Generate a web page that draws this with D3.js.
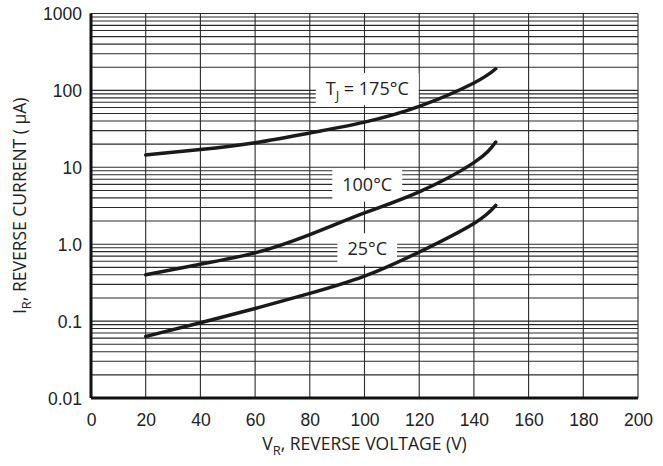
<!DOCTYPE html>
<html>
<head>
<meta charset="utf-8">
<script src="https://cdn.jsdelivr.net/npm/d3@7"></script>
<style>
  html, body { margin: 0; background: #fff; overflow: hidden; }
  svg { display: block; font-family: "Open Sans", "Liberation Sans", sans-serif; }
</style>
</head>
<body>
<div id="chart"></div>
<script>
// reverse voltage (V) where each curve was read
const voltage = [20, 40, 60, 80, 100, 120, 140, 148];
// reverse current (uA) per junction temperature
const i175 = [14.5, 17.0, 20.9, 27.9, 38.7, 62, 125, 191];
const i100 = [0.40, 0.55, 0.77, 1.33, 2.55, 4.8, 11.5, 21.3];
const i25 = [0.063, 0.095, 0.146, 0.229, 0.384, 0.79, 1.86, 3.2];

const xTicks = [0, 20, 40, 60, 80, 100, 120, 140, 160, 180, 200];
const yTicks = [0.01, 0.1, 1, 10, 100, 1000];
const yTickLabels = ["0.01", "0.1", "1.0", "10", "100", "1000"];

// curve labels, placed at (V, I)
const labels = [
    { pre: "T", sub: "J", post: " = 175°C", v: 101, i: 104 },
    { pre: "100°C", sub: "", post: "", v: 101, i: 5.8 },
    { pre: "25°C", sub: "", post: "", v: 101, i: 0.86 }
];

const width = 663, height = 466;
const margin = { top: 13.5, right: 25, bottom: 68, left: 91 };
const innerWidth = width - margin.left - margin.right;
const innerHeight = height - margin.top - margin.bottom;

const svg = d3.select("#chart").append("svg")
    .attr("width", width)
    .attr("height", height);

const chart = svg.append("g")
    .attr("transform", `translate(${margin.left}, ${margin.top})`);

const xScale = d3.scaleLinear().domain([0, 200]).range([0, innerWidth]);
const yScale = d3.scaleLog().domain([0.01, 1000]).range([innerHeight, 0]);

// minor + major horizontal grid (1..9 in every decade)
const hLines = [];
for (let e = -2; e < 3; e++) {
    for (let m = 1; m < 10; m++) hLines.push(m * Math.pow(10, e));
}
hLines.push(1000);

const grid = chart.append("g").attr("class", "grid");
grid.selectAll(".hline")
    .data(hLines)
    .enter().append("line")
    .attr("x1", 0)
    .attr("x2", innerWidth)
    .attr("y1", d => yScale(d))
    .attr("y2", d => yScale(d))
    .attr("stroke", "#2a2a2a")
    .attr("stroke-width", 1.1);

grid.selectAll(".vline")
    .data(xTicks)
    .enter().append("line")
    .attr("x1", d => xScale(d))
    .attr("x2", d => xScale(d))
    .attr("y1", 0)
    .attr("y2", innerHeight)
    .attr("stroke", "#2a2a2a")
    .attr("stroke-width", 1.1);

// thick left and bottom axis lines
chart.append("line")
    .attr("x1", 0).attr("x2", 0)
    .attr("y1", 0).attr("y2", innerHeight)
    .attr("stroke", "#111").attr("stroke-width", 3);
chart.append("line")
    .attr("x1", 0).attr("x2", innerWidth)
    .attr("y1", innerHeight).attr("y2", innerHeight)
    .attr("stroke", "#111").attr("stroke-width", 3);

// axes (labels only)
const xAxis = chart.append("g")
    .attr("transform", `translate(0, ${innerHeight})`)
    .attr("font-size", 17.5)
    .attr("font-family", "'Open Sans', sans-serif")
    .call(d3.axisBottom(xScale).tickValues(xTicks).tickSize(0));
xAxis.select(".domain").remove();
xAxis.selectAll("text")
    .attr("y", 28)
    .attr("dy", null)
    .attr("font-size", 17.5)
    .attr("fill", "#222");

const yAxis = chart.append("g")
    .attr("font-size", 17.5)
    .attr("font-family", "'Open Sans', sans-serif")
    .call(d3.axisLeft(yScale).tickValues(yTicks).tickSize(0).tickPadding(9)
        .tickFormat((d, i) => yTickLabels[i]));
yAxis.select(".domain").remove();
yAxis.selectAll("text")
    .attr("dy", 6)
    .attr("font-size", 17.5)
    .attr("fill", "#222");

// label boxes (drawn before curves so curves stay on top)
const labelGroup = chart.append("g");
labels.forEach(l => {
    const g = labelGroup.append("g");
    const t = g.append("text")
        .attr("x", xScale(l.v))
        .attr("y", yScale(l.i) + 6)
        .attr("text-anchor", "middle")
        .attr("font-size", 18)
        .attr("fill", "#222");
    t.append("tspan").text(l.pre);
    if (l.sub) {
        t.append("tspan").attr("dy", 5).attr("font-size", 13).text(l.sub);
        t.append("tspan").attr("dy", -5).text(l.post);
    }
    const bb = t.node().getBBox();
    g.insert("rect", "text")
        .attr("x", bb.x - 10)
        .attr("y", yScale(l.i) - 16)
        .attr("width", bb.width + 20)
        .attr("height", 32)
        .attr("fill", "#fff");
});

// curves
const line = d3.line()
    .x((d, i) => xScale(voltage[i]))
    .y(d => yScale(d))
    .curve(d3.curveNatural);

chart.selectAll(".curve")
    .data([i175, i100, i25])
    .enter().append("path")
    .attr("class", "curve")
    .attr("d", line)
    .attr("fill", "none")
    .attr("stroke", "#1a1a1a")
    .attr("stroke-width", 3.5)
    .attr("stroke-linecap", "round");

// x axis title
const xt = svg.append("text")
    .attr("text-anchor", "middle")
    .attr("x", margin.left + innerWidth / 2)
    .attr("y", 450)
    .attr("font-size", 17.5)
    .attr("fill", "#222");
xt.append("tspan").text("V");
xt.append("tspan").attr("dy", 5).attr("font-size", 13).text("R");
xt.append("tspan").attr("dy", -5).text(", REVERSE VOLTAGE (V)");

// y axis title
const yt = svg.append("text")
    .attr("text-anchor", "middle")
    .attr("transform", `translate(26, ${margin.top + innerHeight / 2}) rotate(-90)`)
    .attr("font-size", 17.5)
    .attr("fill", "#222");
yt.append("tspan").text("I");
yt.append("tspan").attr("dy", 5).attr("font-size", 13).text("R");
yt.append("tspan").attr("dy", -5).text(", REVERSE CURRENT ( µA)");
</script>
</body>
</html>
